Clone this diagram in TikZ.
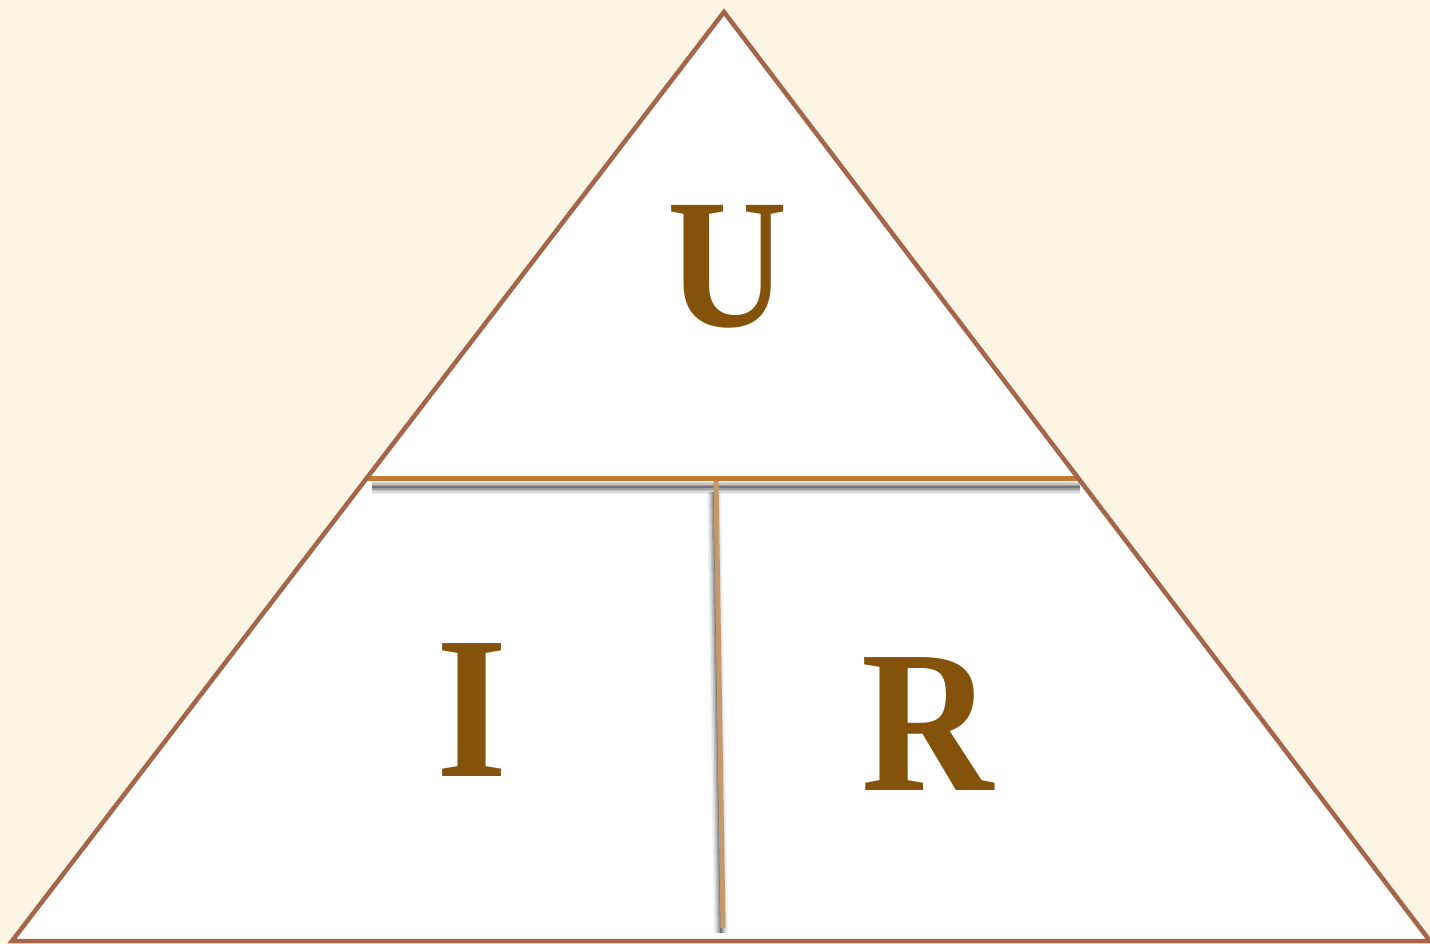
\documentclass[tikz,border=0pt]{standalone}
\usepackage{fontspec}
\setmainfont{Liberation Serif}
\newfontfamily\letterfont{Liberation Serif}[UprightFont={* Bold}, FakeStretch=0.9]
\definecolor{bgc}{HTML}{FDF5E4}
\definecolor{edge}{HTML}{A5654A}
\definecolor{hbar}{HTML}{C47A30}
\definecolor{vbar}{HTML}{C49A6C}
\definecolor{letter}{HTML}{84520A}
\tikzset{
  letterstyle/.style={text=letter, font=\letterfont\fontsize{203}{203}\selectfont, anchor=base, inner sep=0pt},
  shadowline/.style={draw=black, line cap=butt}
}
\begin{document}
\begin{tikzpicture}[x=1pt,y=-1pt]
\fill[bgc] (0,0) rectangle (1430,943);
\useasboundingbox (0,0) rectangle (1430,943);
\coordinate (A) at (724,12);
\coordinate (B) at (12,941);
\coordinate (C) at (1430,941);
\fill[white] (A) -- (B) -- (C) -- cycle;
% shadows
\foreach \w/\o in {14/0.06,11/0.08,8/0.12,5/0.18,2/0.25}{
  \draw[shadowline, line width=\w pt, opacity=\o] (372,487) -- (1080,487);
  \draw[shadowline, line width=\w pt, opacity=\o] (714,492) -- (721,933);
}
\coordinate (HL) at (367,478);
\coordinate (HR) at (1078,478);
\coordinate (VT) at (716,481);
\coordinate (VB) at (723,928);
\draw[hbar, line width=5pt] (HL) -- (HR);
\draw[vbar, line width=5pt] (VT) -- (VB);
\draw[edge, line width=4.5pt, line join=miter] (A) -- (B) -- (C) -- cycle;
\node[letterstyle, font=\letterfont\fontsize{185}{185}\selectfont] (U) at (728,326) {U};
\node[letterstyle] (I) at (472,776) {I};
\node[letterstyle] (R) at (927,790) {R};
\end{tikzpicture}
\end{document}
